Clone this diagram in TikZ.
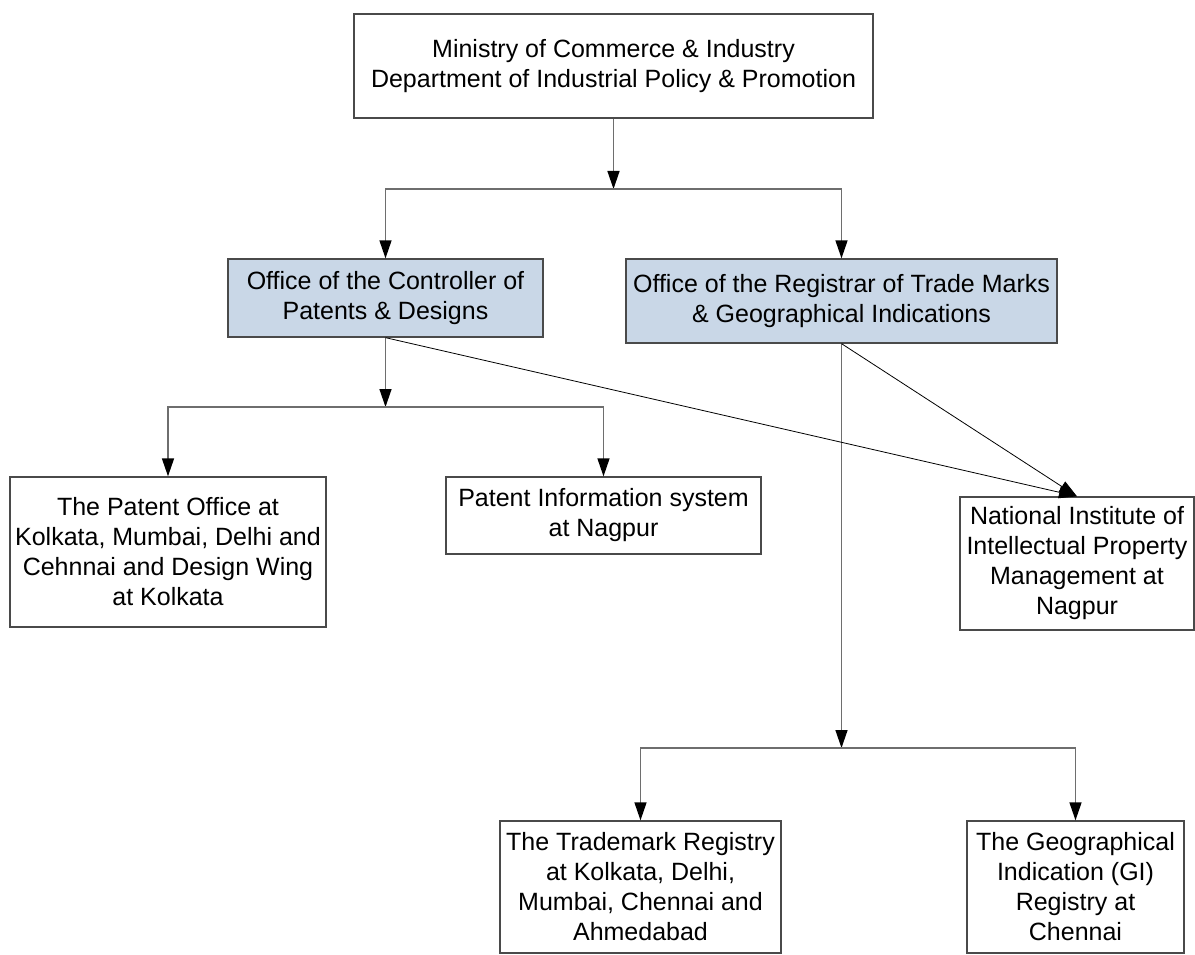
\documentclass[tikz,border=0pt]{standalone}
\usepackage{fontspec}
\setmainfont{Liberation Sans}
\usepackage{xcolor}
\usetikzlibrary{positioning,arrows.meta,calc}
\definecolor{officeblue}{HTML}{C9D7E7}
\definecolor{linegray}{HTML}{6E6E6E}
\definecolor{framegray}{HTML}{4A4A4A}

\begin{document}
\begin{tikzpicture}[
	%	style def
    x=1pt, y=-1pt,
    orgbox/.style={draw=framegray, line width=1.3pt, align=center, inner sep=0pt,
        font=\fontsize{25}{30}\selectfont},
    office/.style={orgbox, fill=officeblue},
    conn line/.style={draw=linegray, line width=1.4pt, -{Triangle[length=18pt,width=12pt,color=black]}},
    diag line/.style={draw=black, line width=0.8pt, -{Triangle[length=18pt,width=12pt]}}
    ]
	\useasboundingbox (0,0) rectangle (1195,955);

	% ministry at the top
	\node[orgbox, minimum width=519pt, minimum height=104pt] (ministry) at (613.5,66)
		{Ministry of Commerce \& Industry\\Department of Industrial Policy \& Promotion};

	% the two offices
	\node[office, minimum width=315pt, minimum height=78pt] (controller) at (385.5,298)
		{Office of the Controller of\\Patents \& Designs};
	\node[office, minimum width=431pt, minimum height=84pt] (registrar) at (841.5,301)
		{Office of the Registrar of Trade Marks\\\& Geographical Indications};

	% units below the controller
	\node[orgbox, minimum width=316pt, minimum height=150pt] (patentoffice) at (168,552)
		{The Patent Office at\\Kolkata, Mumbai, Delhi and\\Cehnnai and Design Wing\\at Kolkata};
	\node[orgbox, minimum width=315pt, minimum height=77pt] (pis) at (603.5,515.5)
		{Patent Information system\\at Nagpur};
	\node[orgbox, minimum width=234pt, minimum height=133pt] (niipm) at (1077,563.5)
		{National Institute of\\Intellectual Property\\Management at\\Nagpur};

	% units below the registrar
	\node[orgbox, minimum width=281pt, minimum height=132pt] (trademark) at (640.5,887)
		{The Trademark Registry\\at Kolkata, Delhi,\\Mumbai, Chennai and\\Ahmedabad};
	\node[orgbox, minimum width=217pt, minimum height=132pt] (gi) at (1075.5,887)
		{The Geographical\\Indication (GI)\\Registry at\\Chennai};

	% branching points
	\coordinate (split1) at (ministry.south |- 0,189);
	\coordinate (split2) at (controller.south |- 0,407);
	\coordinate (split3) at (registrar.south |- 0,748);

	% ministry to offices
	\draw[conn line] (ministry.south) -- (split1);
	\draw[conn line] (split1) -| (controller.north);
	\draw[conn line] (split1) -| (registrar.north);

	% controller to its units
	\draw[conn line] (controller.south) -- (split2);
	\draw[conn line] (split2) -| (patentoffice.north);
	\draw[conn line] (split2) -| (pis.north);

	% registrar to its units
	\draw[conn line] (registrar.south) -- (split3);
	\draw[conn line] (split3) -| (trademark.north);
	\draw[conn line] (split3) -| (gi.north);

	% both offices to the institute
	\draw[diag line] (controller.south) -- (niipm.north);
	\draw[diag line] (registrar.south) -- (niipm.north);
\end{tikzpicture}
\end{document}
